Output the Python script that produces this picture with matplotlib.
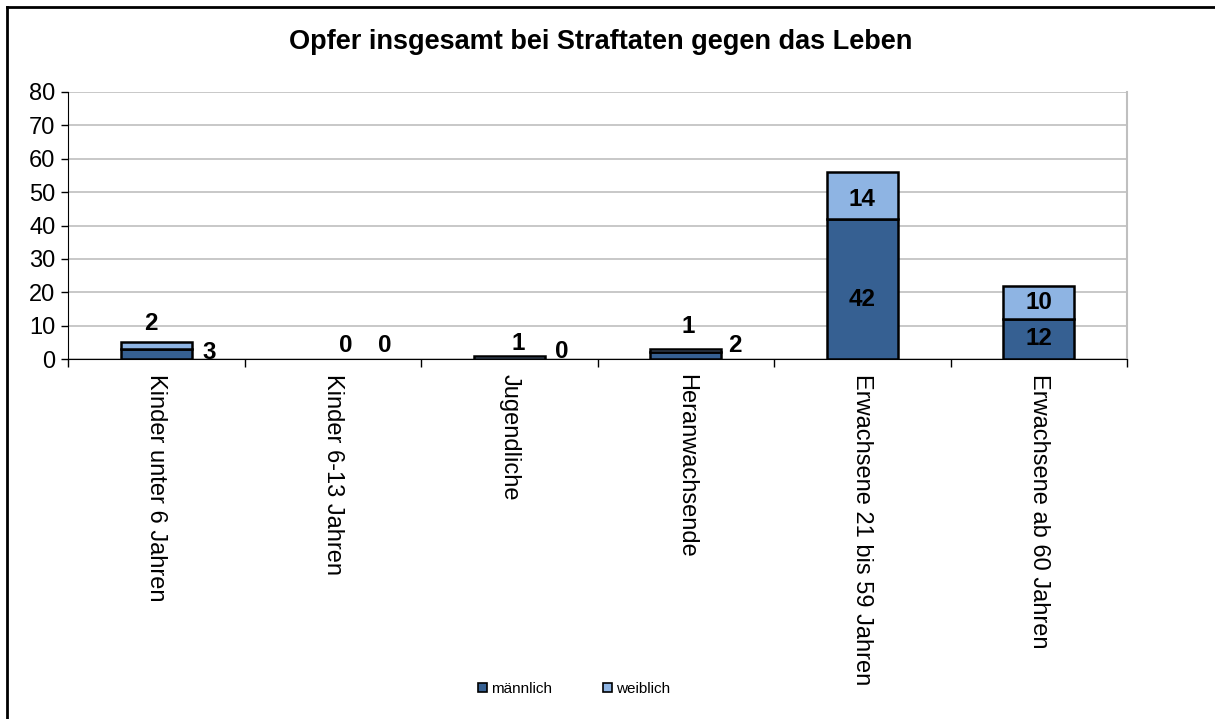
import matplotlib.pyplot as plt
from matplotlib.lines import Line2D
import numpy as np

plt.rcParams['font.family'] = ['Liberation Sans', 'DejaVu Sans']

# Daten
kategorien = ["Kinder unter 6 Jahren", "Kinder 6-13 Jahren", "Jugendliche",
              "Heranwachsende", "Erwachsene 21 bis 59 Jahren", "Erwachsene ab 60 Jahren"]
maennlich = [3, 0, 0, 2, 42, 12]
weiblich = [2, 0, 1, 1, 14, 10]

farbe_m = "#366092"
farbe_w = "#8EB4E3"

fig = plt.figure(figsize=(12.15, 7.19), dpi=100)
ax = fig.add_axes([68 / 1215, 1 - 359 / 719, (1127 - 68) / 1215, (359 - 92) / 719])

x = np.arange(len(kategorien))
m = np.array(maennlich)
w = np.array(weiblich)
# Balken mit Wert 0 nicht zeichnen (sonst bleibt eine Linie stehen)
nz_m = m > 0
nz_w = w > 0
ax.bar(x[nz_m], m[nz_m], width=0.4, color=farbe_m, edgecolor="black", linewidth=1.8, zorder=3)
ax.bar(x[nz_w], w[nz_w], width=0.4, bottom=m[nz_w], color=farbe_w, edgecolor="black",
       linewidth=1.8, zorder=3)

# Beschriftungen: kleine Werte werden wie im Original seitlich/oben versetzt (Pixel)
versatz_w = [(-5, 19), (13, 13), (9, 12), (2, 22), (0, -4), (0, 0)]
versatz_m = [(53, 1), (52, 13), (53, 7), (49, 10), (0, -11), (0, 0)]
for i in range(len(kategorien)):
    for wert, basis, versatz, ist_w in ((m[i], 0, versatz_m[i], False), (w[i], m[i], versatz_w[i], True)):
        if ist_w and wert < 5:
            ref_y = m[i] + w[i]
        elif wert == 0:
            ref_y = 0
        else:
            ref_y = basis + wert / 2
        ax.annotate(str(wert), (x[i], ref_y), xytext=versatz, textcoords="offset pixels",
                    ha="center", va="center", fontsize=17.5, fontweight="bold", zorder=4)

ax.set_xlim(-0.5, len(kategorien) - 0.5)
ax.set_ylim(0, 80)
ax.set_yticks(range(0, 81, 10))
ax.tick_params(axis="y", labelsize=17, direction="out", length=5, width=1, pad=4)
ax.set_xticks(x)
ax.set_xticklabels(kategorien, rotation=270, fontsize=17, va="top", ha="center")
ax.tick_params(axis="x", length=0, pad=11)
ax.set_xticks(np.arange(-0.5, len(kategorien), 1), minor=True)
ax.tick_params(axis="x", which="minor", length=6, width=1, direction="out")
ax.grid(axis="y", color="#BFBFBF", linewidth=1.2, zorder=0)
ax.spines["left"].set_color("black")
ax.spines["bottom"].set_color("black")
ax.spines["right"].set_color("#BFBFBF")
ax.spines["right"].set_linewidth(1.5)
ax.spines["top"].set_visible(False)

fig.text(601 / 1215, 1 - 42 / 719, "Opfer insgesamt bei Straftaten gegen das Leben",
         ha="center", va="center", fontsize=19.5, fontweight="bold")

# Legende
handles = [plt.Rectangle((0, 0), 1, 1, facecolor=farbe_m, edgecolor="black", linewidth=1.2),
           plt.Rectangle((0, 0), 1, 1, facecolor=farbe_w, edgecolor="black", linewidth=1.2)]
fig.legend(handles, ["männlich", "weiblich"], loc="center", bbox_to_anchor=(574 / 1215, 1 - 689 / 719),
           ncol=2, frameon=False, fontsize=11, handlelength=0.6, handleheight=0.6,
           handletextpad=0.25, columnspacing=3.3)

# Rahmen
fig.add_artist(Line2D([7 / 1215, 7 / 1215], [0, 1 - 7 / 719], color="black", linewidth=2))
fig.add_artist(Line2D([7 / 1215, 1], [1 - 7 / 719, 1 - 7 / 719], color="black", linewidth=2))

fig.savefig("out.png", dpi=100)
